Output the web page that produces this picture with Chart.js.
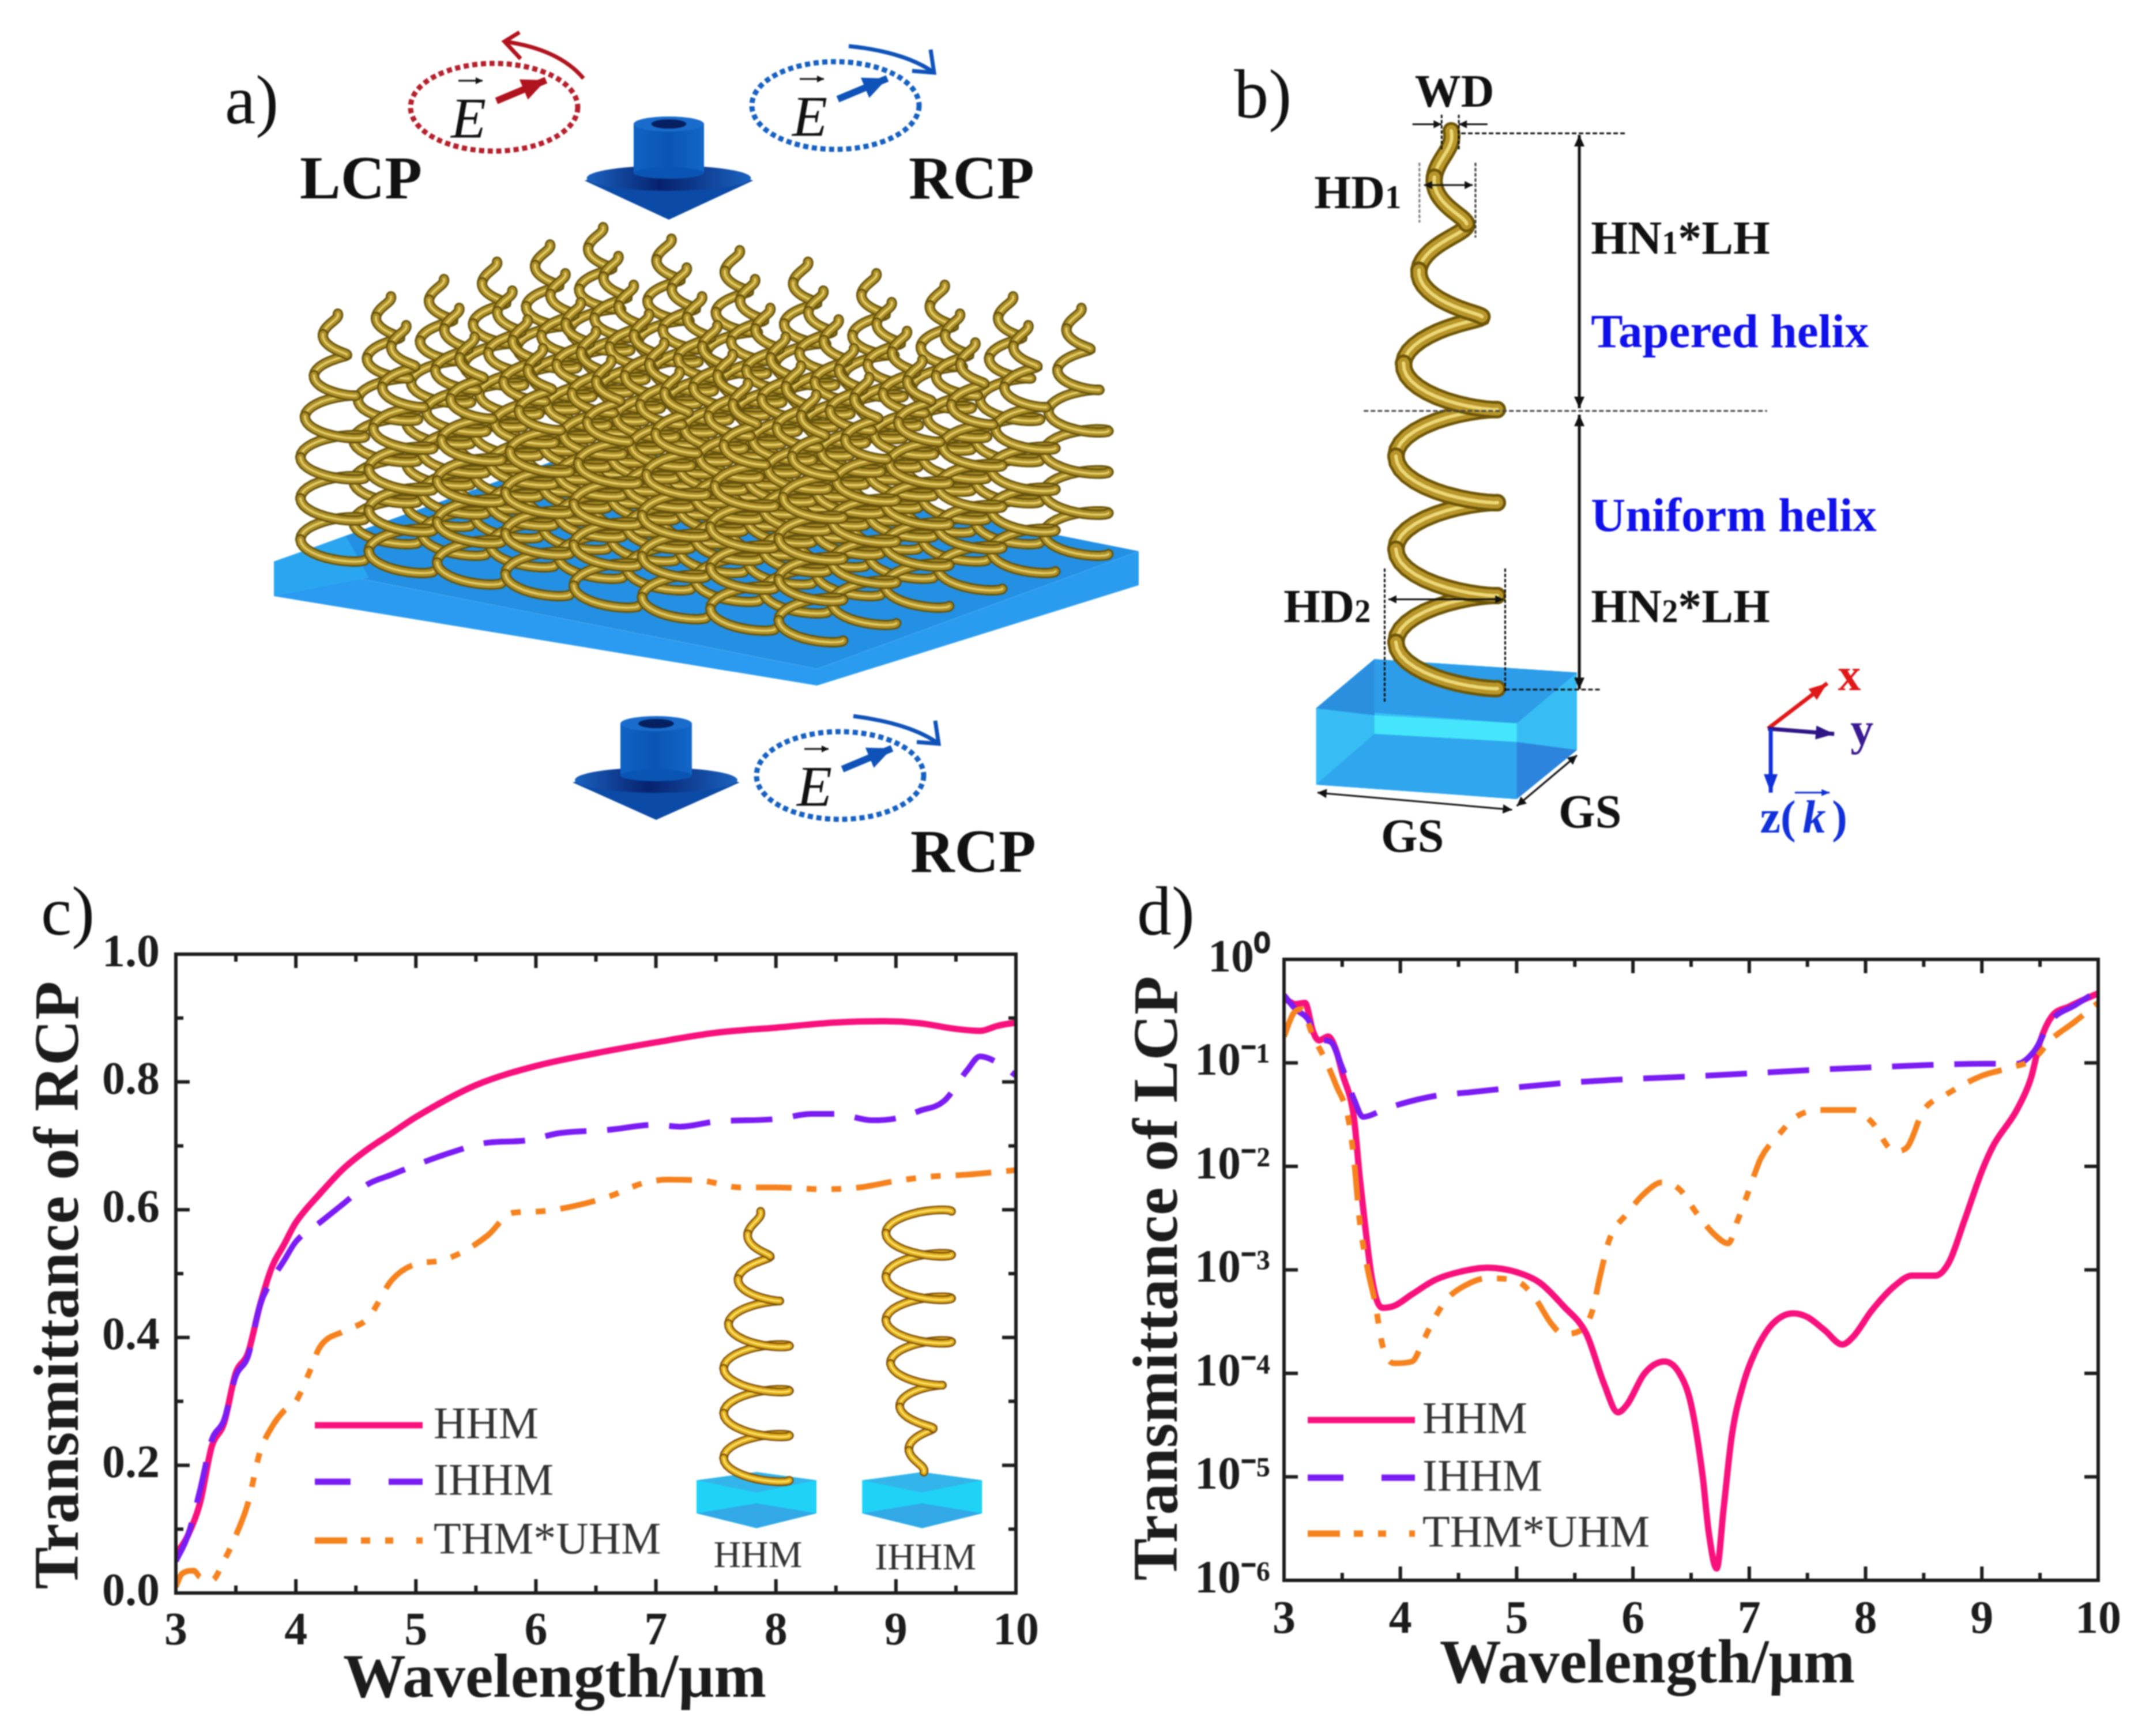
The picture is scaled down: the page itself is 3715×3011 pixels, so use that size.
<!DOCTYPE html>
<html><head><meta charset="utf-8">
<style>
html,body{margin:0;padding:0;background:#fff;width:3715px;height:3011px;overflow:hidden}
#stage{position:relative;width:3715px;height:3011px;filter:blur(1px)}
canvas{position:absolute;display:block}
svg{position:absolute;left:0;top:0}
svg text{font-family:"Liberation Serif",serif}
</style>
<script src="https://cdn.jsdelivr.net/npm/chart.js@4/dist/chart.umd.min.js"></script>
</head><body><div id="stage">
<canvas id="chartC" width="1870" height="1451" style="left:0;top:1560px"></canvas>
<canvas id="chartD" width="1835" height="1411" style="left:1880px;top:1600px"></canvas>
<svg id="art" width="3715" height="3011" viewBox="0 0 3715 3011"></svg>
</div>
<script>
// ---------- data ----------
const seriesNames = ['HHM','IHHM','THM*UHM'];
const xTickLabels = ['3','4','5','6','7','8','9','10'];
const xAxisTitle = 'Wavelength/μm';
const rcpAxisTitle = 'Transmittance of RCP';
const lcpAxisTitle = 'Transmittance of LCP';

const rcpHhmX = [3,3.1,3.2,3.3,3.4,3.5,3.6,3.7,3.8,3.9,4,4.2,4.4,4.6,4.8,5,5.5,6,6.5,7,7.5,8,8.5,8.9,9.2,9.5,9.7,9.85,10];
const rcpHhmY = [.06,.09,.14,.23,.265,.345,.375,.45,.51,.545,.58,.625,.665,.695,.72,.745,.795,.825,.845,.862,.877,.885,.893,.895,.892,.883,.88,.888,.893];
const rcpIhhmX = [3,3.1,3.2,3.3,3.4,3.5,3.6,3.7,3.8,3.9,4,4.2,4.4,4.6,4.8,5,5.3,5.6,5.9,6.2,6.6,7,7.2,7.5,8,8.3,8.5,8.8,9,9.2,9.4,9.6,9.7,9.85,10];
const rcpIhhmY = [.05,.09,.16,.24,.27,.34,.37,.45,.49,.52,.55,.58,.61,.64,.655,.67,.69,.705,.708,.72,.725,.733,.73,.738,.742,.75,.75,.74,.743,.755,.77,.82,.84,.83,.81];
const rcpThmX = [3,3.05,3.15,3.2,3.3,3.4,3.5,3.6,3.7,3.8,3.9,4,4.1,4.2,4.4,4.6,4.8,5,5.2,5.4,5.6,5.8,6,6.3,6.6,6.9,7.1,7.4,7.7,8,8.4,8.7,9,9.3,9.6,10];
const rcpThmY = [.01,.03,.035,.025,.02,.05,.09,.14,.22,.26,.285,.30,.34,.385,.41,.43,.49,.515,.52,.535,.56,.595,.597,.605,.62,.642,.647,.645,.635,.635,.632,.635,.645,.652,.655,.662];

const lcpHhmX = [3,3.1,3.18,3.25,3.3,3.38,3.45,3.5,3.6,3.65,3.7,3.75,3.8,3.85,3.95,4.1,4.3,4.5,4.75,5,5.2,5.4,5.6,5.75,5.87,5.95,6.1,6.27,6.4,6.5,6.6,6.65,6.72,6.78,6.85,6.95,7.05,7.2,7.38,7.5,7.65,7.8,7.9,8.05,8.25,8.4,8.6,8.72,8.85,9,9.1,9.3,9.42,9.5,9.6,9.75,10];
const lcpHhmY = [.42,.37,.38,.2,.165,.18,.13,.08,.03,.008,.0025,.0009,.0005,.00043,.00045,.00058,.0008,.00095,.00105,.00095,.00075,.00045,.00024,.00008,.000042,.00005,.0001,.00013,.0001,.00005,.00001,.000003,.0000013,.000005,.000025,.00008,.00016,.0003,.00038,.00035,.00026,.00019,.00023,.0004,.0007,.00088,.00088,.0012,.003,.009,.016,.035,.07,.16,.28,.35,.47];
const lcpIhhmX = [3,3.1,3.2,3.3,3.4,3.5,3.6,3.68,3.85,4,4.3,4.6,5,5.5,6,6.5,7,7.5,8,8.5,9,9.3,9.45,9.6,9.8,10];
const lcpIhhmY = [.45,.33,.27,.17,.16,.09,.045,.03,.035,.04,.048,.052,.058,.065,.07,.074,.079,.085,.09,.095,.098,.098,.13,.26,.36,.5];
const lcpThmX = [3,3.08,3.15,3.25,3.35,3.45,3.55,3.6,3.65,3.72,3.78,3.85,3.95,4.1,4.2,4.3,4.4,4.55,4.75,5,5.15,5.3,5.4,5.55,5.65,5.72,5.8,5.95,6.1,6.25,6.4,6.55,6.7,6.82,6.9,7,7.1,7.25,7.4,7.6,7.9,8.05,8.25,8.35,8.5,8.7,9,9.25,9.45,9.6,9.8,10];
const lcpThmY = [.18,.3,.33,.18,.11,.06,.03,.012,.003,.001,.0005,.00018,.000125,.00013,.00021,.00035,.00052,.0007,.00083,.00078,.00055,.0003,.00024,.00026,.0004,.0009,.002,.0035,.0055,.007,.006,.0035,.0022,.0018,.003,.006,.012,.02,.03,.035,.035,.027,.014,.015,.035,.05,.075,.09,.11,.17,.25,.38];

const lcpTickValues = [1,1e-1,1e-2,1e-3,1e-4,1e-5,1e-6];
const lcpTickLabels = ['10⁰','10⁻¹','10⁻²','10⁻³','10⁻⁴','10⁻⁵','10⁻⁶'];

// ---------- chart styling ----------
const zip = (xs, ys) => xs.map((x, i) => ({x, y: ys[i]}));
const SERIF = '"Liberation Serif", serif';
const INK = '#1c1c1c';
const PINK = '#f7117c', VIOLET = '#7a1cf2', ORANGE = '#f5821e';
const DASH_IHHM = [72, 36], DASH_THM = [62, 26, 17, 26, 17, 26];

function datasets(a, b, c) {
  return [
    {label: seriesNames[2], data: c, borderColor: ORANGE, borderWidth: 10, borderDash: DASH_THM, cubicInterpolationMode: 'monotone', pointRadius: 0},
    {label: seriesNames[1], data: b, borderColor: VIOLET, borderWidth: 10, borderDash: DASH_IHHM, cubicInterpolationMode: 'monotone', pointRadius: 0},
    {label: seriesNames[0], data: a, borderColor: PINK, borderWidth: 11, cubicInterpolationMode: 'monotone', pointRadius: 0}
  ];
}

function framePlugin(o) {
  return {
    id: 'frame',
    afterDatasetsDraw(chart) {
      const {ctx, chartArea: A, scales: {x, y}} = chart;
      ctx.save();
      ctx.strokeStyle = INK; ctx.lineWidth = 6; ctx.lineCap = 'butt'; ctx.setLineDash([]);
      ctx.strokeRect(A.left, A.top, A.right - A.left, A.bottom - A.top);
      x.ticks.forEach(t => {
        const px = x.getPixelForValue(t.value);
        const len = Number.isInteger(t.value) ? o.major : o.minor;
        ctx.beginPath();
        ctx.moveTo(px, A.bottom); ctx.lineTo(px, A.bottom - len);
        ctx.moveTo(px, A.top); ctx.lineTo(px, A.top + len);
        ctx.stroke();
      });
      y.ticks.forEach(t => {
        const py = y.getPixelForValue(t.value);
        const len = o.isMajorY(t.value) ? o.major : o.minor;
        ctx.beginPath();
        ctx.moveTo(A.left, py); ctx.lineTo(A.left + len, py);
        ctx.moveTo(A.right, py); ctx.lineTo(A.right - len, py);
        ctx.stroke();
      });
      // inset legend, taken from the datasets
      const L = o.legend;
      [2, 1, 0].forEach((d, row) => {
        const ds = chart.data.datasets[d];
        ctx.strokeStyle = ds.borderColor; ctx.lineWidth = 11;
        ctx.setLineDash(L.dash[row]);
        ctx.beginPath(); ctx.moveTo(L.x0, L.y[row]); ctx.lineTo(L.x1, L.y[row]); ctx.stroke();
        ctx.setLineDash([]);
        ctx.fillStyle = '#333'; ctx.font = L.font; ctx.textBaseline = 'middle'; ctx.textAlign = 'left';
        ctx.fillText(ds.label, L.tx, L.y[row] + 2);
      });
      // axis titles sit off the plot centre in the reference
      ctx.fillStyle = INK; ctx.font = 'bold ' + o.xTitleSize + 'px ' + SERIF; ctx.textAlign = 'center'; ctx.textBaseline = 'middle';
      ctx.fillText(xAxisTitle, o.xTitleAt[0], o.xTitleAt[1]);
      ctx.font = 'bold 110px ' + SERIF;
      ctx.translate(o.yTitleAt[0], o.yTitleAt[1]); ctx.rotate(-Math.PI / 2);
      ctx.fillText(o.yTitle, 0, 0);
      ctx.restore();
    }
  };
}

function baseOptions(o) {
  return {
    responsive: false, animation: false, devicePixelRatio: 1,
    layout: {autoPadding: false, padding: {left: 0, top: o.top, right: o.right, bottom: 0}},
    plugins: {legend: {display: false}, tooltip: {enabled: false}},
    elements: {line: {fill: false}},
    scales: {
      x: {
        type: 'linear', min: 3, max: 10,
        grid: {display: false}, border: {display: false},
        afterBuildTicks(s) { s.ticks = []; for (let k = 0; k <= 14; k++) s.ticks.push({value: 3 + k * 0.5}); },
        afterFit(s) { s.height = o.xHeight; },
        ticks: {
          autoSkip: false, maxRotation: 0, padding: o.xPad, color: INK,
          font: {family: SERIF, weight: 'bold', size: 80},
          callback: v => Number.isInteger(v) ? xTickLabels[v - 3] : ''
        }
      },
      y: Object.assign({
        grid: {display: false}, border: {display: false},
        afterFit(s) { s.width = o.yWidth; }
      }, o.y)
    }
  };
}

new Chart(document.getElementById('chartC'), {
  type: 'line',
  data: {datasets: datasets(zip(rcpHhmX, rcpHhmY), zip(rcpIhhmX, rcpIhhmY), zip(rcpThmX, rcpThmY))},
  plugins: [framePlugin({major: 24, minor: 13, isMajorY: v => Math.abs(v * 5 - Math.round(v * 5)) < 1e-6,
      xTitleAt: [962, 1355], xTitleSize: 109, yTitleAt: [107, 669], yTitle: rcpAxisTitle,
      legend: {x0: 546, x1: 733, tx: 752, y: [912, 1010, 1112], font: '78px ' + SERIF,
        dash: [[], [62, 66, 62], [56, 24, 16, 26, 14, 40]]}})],
  options: baseOptions({
    top: 95, right: 108, xHeight: 248, yWidth: 305, xPad: 12,
    y: {
      type: 'linear', min: 0, max: 1,
      ticks: {stepSize: 0.1, autoSkip: false, padding: 20, color: INK,
        font: {family: SERIF, weight: 'bold', size: 80},
        callback: v => Math.abs(v * 5 - Math.round(v * 5)) < 1e-6 ? v.toFixed(1) : ''}
    }
  })
});

new Chart(document.getElementById('chartD'), {
  type: 'line',
  data: {datasets: datasets(zip(lcpHhmX, lcpHhmY), zip(lcpIhhmX, lcpIhhmY), zip(lcpThmX, lcpThmY))},
  plugins: [framePlugin({major: 24, minor: 13, isMajorY: () => true,
      xTitleAt: [977, 1290], xTitleSize: 107, yTitleAt: [133, 617], yTitle: lcpAxisTitle,
      legend: {x0: 388, x1: 574, tx: 587, y: [863, 963, 1060], font: '78px ' + SERIF,
        dash: [[], [62, 66, 62], [56, 24, 16, 26, 14, 40]]}})],
  options: baseOptions({
    top: 58, right: 76, xHeight: 270, yWidth: 347, xPad: 14,
    y: {
      type: 'logarithmic', min: 1e-6, max: 1,
      afterBuildTicks(s) { s.ticks = lcpTickValues.map(value => ({value})); },
      ticks: {autoSkip: false, padding: 16, color: INK,
        font: {family: SERIF, weight: 'bold', size: 80},
        callback: v => { const i = lcpTickValues.findIndex(t => Math.abs(t / v - 1) < 1e-6); return i < 0 ? '' : lcpTickLabels[i]; }}
    }
  })
});

// ---------- illustrations (panels a, b and the insets of c) ----------
const out = [];
const P = pts => pts.map(p => p[0].toFixed(1) + ',' + p[1].toFixed(1)).join(' ');
function poly(pts, fill) { out.push(`<polygon points="${P(pts)}" fill="${fill}"/>`); }
function line(x1, y1, x2, y2, col, w, dash) {
  out.push(`<line x1="${x1}" y1="${y1}" x2="${x2}" y2="${y2}" stroke="${col}" stroke-width="${w}"${dash ? ` stroke-dasharray="${dash}"` : ''}/>`);
}
function head(x1, y1, x2, y2, col, len, wid) {
  const a = Math.atan2(y2 - y1, x2 - x1), c = Math.cos(a), s = Math.sin(a);
  poly([[x2, y2], [x2 - len * c - wid * s, y2 - len * s + wid * c], [x2 - len * c + wid * s, y2 - len * s - wid * c]], col);
}
function arrow(x1, y1, x2, y2, col, w, len, wid, both) {
  line(x1, y1, x2, y2, col, w);
  head(x1, y1, x2, y2, col, len, wid);
  if (both) head(x2, y2, x1, y1, col, len, wid);
}
function text(x, y, s, size, col, opt) {
  opt = opt || {};
  out.push(`<text x="${x}" y="${y}" font-size="${size}" fill="${col}" font-weight="${opt.weight || 'bold'}" font-style="${opt.style || 'normal'}" text-anchor="${opt.anchor || 'start'}">${s}</text>`);
}
const GOLD_DULL = ['#66530e', '#ad8f28', '#e3cc68'];
const GOLD_BRIGHT = ['#7a4e08', '#e0ab1c', '#fbe468'];
function helix(cx, y0, H, turns, Rf, e, sw, cols) {
  const back = [], front = [];
  const halves = Math.round(turns * 2);
  for (let h = 0; h < halves; h++) {
    const pts = [];
    for (let k = 0; k <= 14; k++) {
      const u = (h + k / 14) / halves, th = u * turns * 2 * Math.PI;
      const R = Rf(u);
      pts.push([cx + R * Math.cos(th), y0 - H * u + e * R * Math.sin(th)]);
    }
    (h % 2 === 0 ? front : back).push(pts);
  }
  const draw = p => {
    const d = P(p);
    out.push(`<polyline points="${d}" fill="none" stroke="${cols[0]}" stroke-width="${sw}" stroke-linecap="round"/>`);
    out.push(`<polyline points="${d}" fill="none" stroke="${cols[1]}" stroke-width="${sw * 0.68}" stroke-linecap="round"/>`);
    out.push(`<polyline points="${d}" fill="none" stroke="${cols[2]}" stroke-width="${sw * 0.2}" stroke-linecap="round"/>`);
  };
  back.forEach(draw); front.forEach(draw);
}
function taper(R, tip) { return u => u < 0.5 ? R : R + (tip - R) * (u - 0.5) / 0.5; }
function inverse(R, foot) { return u => u < 0.5 ? foot + (R - foot) * u / 0.5 : R; }

function bigArrow(cx, top, cylW, cylBot, flW, flTop, flBot, tip) {
  const id = 'g' + out.length;
  out.push(`<defs><linearGradient id="${id}" x1="0" x2="1" y1="0" y2="0"><stop offset="0" stop-color="#0f62c4"/><stop offset="0.5" stop-color="#0a55b4"/><stop offset="1" stop-color="#1267c8"/></linearGradient>
  <linearGradient id="${id}b" x1="0" x2="1" y1="0" y2="0"><stop offset="0" stop-color="#1a62c0"/><stop offset="0.45" stop-color="#07226e"/><stop offset="1" stop-color="#1a62c0"/></linearGradient></defs>`);
  poly([[cx - flW / 2, (flTop + flBot) / 2], [cx, flTop - 12], [cx + flW / 2, (flTop + flBot) / 2], [cx, tip]], '#0b4aa6');
  out.push(`<ellipse cx="${cx}" cy="${(flTop + flBot) / 2 - 4}" rx="${flW / 2 - 4}" ry="${(flBot - flTop) / 2}" fill="url(#${id}b)"/>`);
  out.push(`<rect x="${cx - cylW / 2}" y="${top}" width="${cylW}" height="${cylBot - top}" fill="url(#${id})"/>`);
  out.push(`<ellipse cx="${cx}" cy="${cylBot}" rx="${cylW / 2}" ry="10" fill="#0a55b4"/>`);
  out.push(`<ellipse cx="${cx}" cy="${top}" rx="${cylW / 2}" ry="13" fill="#1a6ccc"/>`);
  out.push(`<ellipse cx="${cx}" cy="${top}" rx="${cylW / 4}" ry="8" fill="#062060"/>`);
}
function polarisation(cx, cy, col, curve, dark) {
  out.push(`<ellipse cx="${cx}" cy="${cy}" rx="145" ry="76" fill="none" stroke="${col}" stroke-width="9" stroke-dasharray="9 6"/>`);
  text(cx - 75, cy + 52, 'E', 100, '#111', {weight: 'normal', style: 'italic', anchor: 'start'});
  arrow(cx - 62, cy - 46, cx - 20, cy - 46, '#111', 3, 12, 6);
  arrow(cx + 4, cy - 11, cx + 90, cy - 47, dark, 12, 42, 19);
  const [x1, y1, qx, qy, x2, y2] = curve;
  out.push(`<path d="M${x1} ${y1} Q${qx} ${qy} ${x2} ${y2}" fill="none" stroke="${dark}" stroke-width="7"/>`);
  out.push(`<polyline points="${x2 + curve[6]},${y2 + curve[7]} ${x2},${y2} ${x2 + curve[8]},${y2 + curve[9]}" fill="none" stroke="${dark}" stroke-width="7"/>`);
}

// panel a
text(390, 214, 'a)', 120, '#111', {weight: 'normal'});
text(520, 344, 'LCP', 106, '#111');
text(1576, 344, 'RCP', 106, '#111');
polarisation(857, 186, '#b3202c', [1012, 136, 969, 85, 875, 72, 26, -16, 28, 30], '#b0141e');
polarisation(1449, 183, '#1560c0', [1472, 80, 1570, 90, 1620, 126, -38, -3, -6, -40], '#0f52b8');
bigArrow(1160, 215, 122, 300, 293, 291, 335, 381);

// substrate
poly([[475, 974], [1042, 770], [1975, 956], [1417, 1160]], '#2390e4');
poly([[475, 974], [1417, 1160], [1417, 1189], [475, 1034]], '#2a9bf0');
poly([[475, 974], [600, 930], [640, 1002], [475, 1034]], '#2aa6f0');
poly([[1417, 1160], [1975, 956], [1975, 1015], [1417, 1189]], '#2a9cf0');
// helix array, drawn back to front
const cells = [];
for (let i = 5; i >= 0; i--) for (let j = 0; j < 8; j++) cells.push([577 + i * 92 + j * 118.5, 971 - i * 30 + j * 20]);
cells.sort((p, q) => p[1] - q[1]);
cells.forEach(c => helix(c[0], c[1], 427, 6, taper(56, 9), 0.3, 18, GOLD_DULL));

bigArrow(1138, 1255, 124, 1345, 290, 1335, 1379, 1422);
polarisation(1457, 1345, '#1560c0', [1480, 1242, 1580, 1255, 1628, 1290, -38, -3, -6, -40], '#0f52b8');
text(1579, 1512, 'RCP', 106, '#111');

// panel b
const bx = zx => +(2096 + zx / 1.244).toFixed(1), by = zy => +(60 + zy / 1.08).toFixed(1);
const B = (x, y) => [bx(x), by(y)];
poly([B(358, 1170), B(795, 1195), B(795, 1340), B(665, 1432), B(232, 1405), B(232, 1262)], '#37bdf4');
poly([B(358, 1170), B(795, 1195), B(665, 1290), B(232, 1262)], '#2d9ce9');
poly([B(358, 1170), B(358, 1275), B(232, 1262)], '#2b8fe0');
poly([B(358, 1275), B(665, 1290), B(665, 1325), B(358, 1310)], '#45e6fb');
poly([B(358, 1310), B(665, 1325), B(665, 1432), B(232, 1405)], '#2fa6ee');
poly([B(665, 1325), B(795, 1340), B(665, 1432)], '#2c84dc');
helix(2509, by(1225), by(1225) - by(180), 6, taper(88, 8), 0.3, 30, ['#6e5608', '#b8962a', '#ecd878']);
text(bx(55), by(155), 'b)', 120, '#111', {weight: 'normal'});
text(bx(445), by(135), 'WD', 80, '#111');
const sub = (a, n, c) => `${a}<tspan font-size="56">${n}</tspan>${c || ''}`;
text(bx(228), by(325), sub('HD', 1), 82, '#111');
text(bx(162), by(1100), sub('HD', 2), 82, '#111');
text(bx(825), by(410), sub('HN', 1, '*LH'), 82, '#111');
text(bx(825), by(1100), sub('HN', 2, '*LH'), 82, '#111');
text(bx(825), by(585), 'Tapered helix', 83, '#1010e8');
text(bx(825), by(930), 'Uniform helix', 83, '#1010e8');
text(bx(372), by(1530), 'GS', 82, '#111');
text(bx(755), by(1485), 'GS', 82, '#111');
line(bx(545), by(185), bx(900), by(185), '#111', 3, '8 4');
line(bx(335), by(705), bx(1205), by(705), '#444', 3, '8 4');
line(bx(640), by(1227), bx(845), by(1227), '#111', 3, '8 4');
arrow(bx(800), by(700), bx(800), by(188), '#111', 5, 20, 9, true);
arrow(bx(800), by(712), bx(800), by(1226), '#111', 5, 20, 9, true);
arrow(bx(440), by(168), bx(503), by(168), '#111', 3, 14, 7);
arrow(bx(602), by(168), bx(540), by(168), '#111', 3, 14, 7);
line(bx(503), by(150), bx(503), by(215), '#111', 3, '6 3');
line(bx(540), by(150), bx(540), by(215), '#111', 3, '6 3');
arrow(bx(465), by(282), bx(570), by(282), '#111', 3, 14, 7, true);
line(bx(455), by(240), bx(455), by(352), '#777', 3, '6 3');
line(bx(576), by(240), bx(576), by(380), '#333', 3, '6 3');
arrow(bx(388), by(1058), bx(636), by(1058), '#111', 3, 14, 7, true);
line(bx(380), by(1000), bx(380), by(1250), '#111', 3, '6 3');
line(bx(640), by(1000), bx(640), by(1230), '#111', 3, '6 3');
arrow(bx(235), by(1420), bx(655), by(1452), '#111', 3, 16, 8, true);
arrow(bx(665), by(1445), bx(795), by(1350), '#111', 3, 16, 8, true);
arrow(bx(1207), by(1300), bx(1335), by(1215), '#e01818', 7, 32, 12);
arrow(bx(1207), by(1300), bx(1350), by(1310), '#2f1585', 7, 32, 12);
arrow(bx(1213), by(1300), bx(1213), by(1420), '#1030d8', 7, 32, 12);
text(bx(1358), by(1228), 'x', 80, '#e01818');
text(bx(1385), by(1330), 'y', 80, '#3a1a90');
text(bx(1190), by(1495), 'z(', 80, '#1030d8');
text(bx(1282), by(1495), 'k', 80, '#1030d8', {style: 'italic'});
text(bx(1345), by(1495), ')', 80, '#1030d8');
arrow(bx(1265), by(1420), bx(1340), by(1420), '#1030d8', 3, 14, 6);

// panel labels of c and d
text(71, 1621, 'c)', 120, '#111', {weight: 'normal'});
text(1972, 1621, 'd)', 120, '#111', {weight: 'normal'});

// insets of c
const cxz = zx => +(zx / 0.846).toFixed(1), cyz = zy => +(1520 + zy / 1.05).toFixed(1);
const C = (x, y) => [cxz(x), cyz(y)];
function block(dx) {
  poly([C(1022 + dx, 1100), C(1110 + dx, 1085), C(1198 + dx, 1100), C(1198 + dx, 1160), C(1110 + dx, 1187), C(1022 + dx, 1160)], '#1fd2f6');
  poly([C(1022 + dx, 1100), C(1110 + dx, 1085), C(1198 + dx, 1100), C(1110 + dx, 1122)], '#33b4ea');
  poly([C(1022 + dx, 1160), C(1110 + dx, 1142), C(1198 + dx, 1160), C(1110 + dx, 1187)], '#32a8e6');
}
block(0); block(243);
helix(cxz(1110), cyz(1100), cyz(1100) - cyz(610), 6, taper(57, 7), 0.3, 15, GOLD_BRIGHT);
helix(cxz(1348), cyz(1085), cyz(1085) - cyz(610), 6, inverse(57, 9), 0.3, 15, GOLD_BRIGHT);
text(cxz(1112), cyz(1258), 'HHM', 66, '#333', {weight: 'normal', anchor: 'middle'});
text(cxz(1358), cyz(1262), 'IHHM', 66, '#333', {weight: 'normal', anchor: 'middle'});

document.getElementById('art').innerHTML = out.join('');
</script>
</body></html>
